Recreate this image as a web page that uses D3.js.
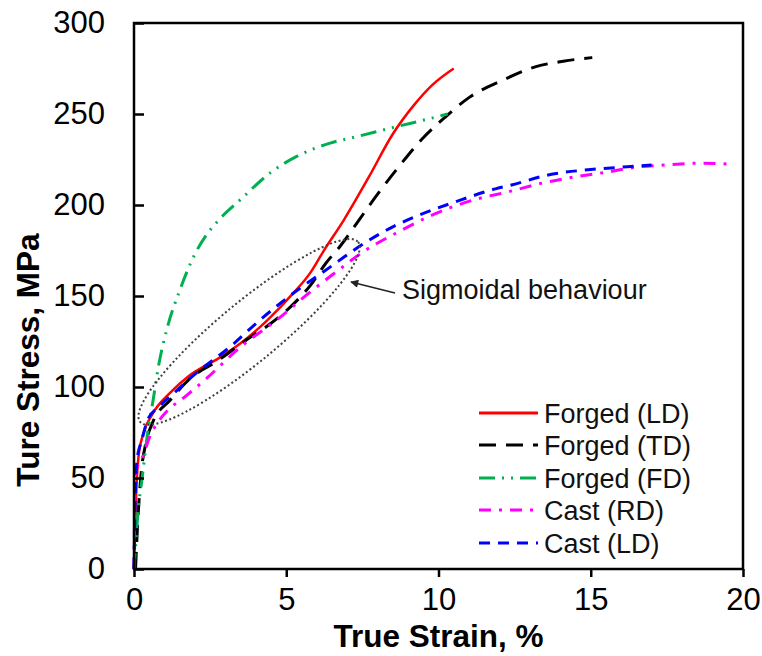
<!DOCTYPE html>
<html>
<head>
<meta charset="utf-8">
<script src="https://cdn.jsdelivr.net/npm/d3@7"></script>
<style>
  html, body { margin: 0; padding: 0; background: #fff; }
  svg { display: block; font-family: "Liberation Sans", Arial, sans-serif; }
</style>
</head>
<body>
<svg id="chart" width="762" height="656"></svg>
<script>
// True stress–strain curves: [strain %, stress MPa]
const forgedLD = [[0,0],[0.03,20],[0.08,45],[0.15,62],[0.3,74],[0.6,85],[1.2,97],[1.8,106],[2.8,116],[3.5,124],[4.4,137],[5.2,151],[5.8,163],[6.2,174],[6.9,192],[7.7,215],[8.5,239],[9.2,255],[9.8,266],[10.5,275]];
const forgedTD = [[0.05,0],[0.12,25],[0.22,50],[0.4,70],[0.6,80],[1.2,93],[1.8,104],[2.8,115],[3.7,126],[4.5,135],[5.2,145],[5.8,156],[6.3,168],[6.8,178],[7.4,192],[8.0,206],[8.6,219],[9.5,237],[10.2,248],[11.0,259],[12.1,268.5],[13.2,276],[14.1,279],[15.05,281]];
const forgedFD = [[0,0],[0.05,12],[0.13,31],[0.26,49],[0.45,75],[0.63,93],[0.8,111],[1.1,133],[1.5,153],[2.0,173],[2.4,184],[2.8,192],[3.5,203],[4.5,218],[5.5,228],[6.44,234],[7.3,237.5],[8.6,243],[9.6,247],[10.3,250]];
const castRD = [[0,0],[0.02,30],[0.05,53],[0.3,62],[0.5,72],[0.8,81],[1.1,87],[1.7,95],[2.4,105],[3.5,122],[4.7,137],[5.7,151],[6.7,164],[7.5,174],[8.6,184.5],[10,196],[11.2,203],[12.35,207.5],[13.4,212],[14.5,215.5],[15.5,218],[16.6,221],[17.5,222],[18.6,223],[19.5,222.5]];
const castLD = [[0,0],[0.03,30],[0.1,60],[0.26,71],[0.45,82],[0.8,89],[1.2,95],[2.07,108],[3.15,122],[4.15,137],[5.35,153],[6.45,166],[7.2,175],[8.5,188],[9.3,194],[10.6,202],[11.9,209],[12.4,211],[13.6,216.5],[15,219.5],[16.2,221],[17,222]];

const seriesNames = ["Forged (LD)", "Forged (TD)", "Forged (FD)", "Cast (RD)", "Cast (LD)"];
const seriesData = [forgedLD, forgedTD, forgedFD, castRD, castLD];
const seriesColors = ["#ff0000", "#000000", "#00b050", "#ff00ff", "#0000ff"];
const seriesDashes = [null, "17,10", "16,7,2,7,2,7", "12,8,3,8", "11,8"];

const xTicks = [0, 5, 10, 15, 20];
const yTicks = [0, 50, 100, 150, 200, 250, 300];

// Annotation: ellipse around the sigmoidal region (tips in data units) and its label
const ellipseTips = [[0.2, 80.8], [7.36, 179.7]];
const ellipseHalfWidth = 30;
const noteText = "Sigmoidal behaviour";

const svg = d3.select("#chart");
const m = { left: 134, right: 743, top: 23, bottom: 569 };

const x = d3.scaleLinear().domain([0, 20]).range([m.left, m.right]);
const y = d3.scaleLinear().domain([0, 300]).range([m.bottom, m.top]);

// Curves
const line = d3.line().x(d => x(d[0])).y(d => y(d[1])).curve(d3.curveMonotoneX);
seriesData.forEach((data, i) => {
  svg.append("path")
    .datum(data)
    .attr("d", line)
    .attr("fill", "none")
    .attr("stroke", seriesColors[i])
    .attr("stroke-width", i === 0 ? 2.5 : 3)
    .attr("stroke-dasharray", seriesDashes[i]);
});

// Frame
svg.append("rect")
  .attr("x", m.left).attr("y", m.top)
  .attr("width", m.right - m.left).attr("height", m.bottom - m.top)
  .attr("fill", "none").attr("stroke", "#000").attr("stroke-width", 2.5);

// X axis: ticks outward
const xAxis = svg.append("g")
  .attr("transform", `translate(0,${m.bottom})`)
  .call(d3.axisBottom(x).tickValues(xTicks).tickSize(8).tickPadding(11).tickFormat(d3.format("d")));
xAxis.select(".domain").remove();
xAxis.selectAll(".tick line").attr("stroke", "#000").attr("stroke-width", 2.5);
xAxis.selectAll(".tick text").attr("font-size", 31).attr("fill", "#000")
  .attr("font-family", "'Liberation Sans', Arial, sans-serif");

// Y axis: ticks inward
const yAxis = svg.append("g")
  .attr("transform", `translate(${m.left},0)`)
  .call(d3.axisLeft(y).tickValues(yTicks).tickSize(0).tickPadding(29).tickFormat(d3.format("d")));
yAxis.select(".domain").remove();
yAxis.selectAll(".tick").append("line")
  .attr("x1", 0).attr("x2", 10).attr("stroke", "#000").attr("stroke-width", 2.5);
yAxis.selectAll(".tick text").attr("font-size", 31).attr("fill", "#000")
  .attr("font-family", "'Liberation Sans', Arial, sans-serif");

// Axis titles
svg.append("text")
  .attr("x", (m.left + m.right) / 2).attr("y", 647)
  .attr("text-anchor", "middle").attr("font-size", 31.5).attr("font-weight", "bold")
  .text("True Strain, %");
svg.append("text")
  .attr("transform", "translate(39,360) rotate(-90)")
  .attr("text-anchor", "middle").attr("font-size", 31.5).attr("font-weight", "bold")
  .text("Ture Stress, MPa");

// Ellipse annotation
const p0 = [x(ellipseTips[0][0]), y(ellipseTips[0][1])];
const p1 = [x(ellipseTips[1][0]), y(ellipseTips[1][1])];
const cx = (p0[0] + p1[0]) / 2, cy = (p0[1] + p1[1]) / 2;
const rx = Math.hypot(p1[0] - p0[0], p1[1] - p0[1]) / 2;
const ang = Math.atan2(p1[1] - p0[1], p1[0] - p0[0]) * 180 / Math.PI;
svg.append("ellipse")
  .attr("cx", cx).attr("cy", cy).attr("rx", rx).attr("ry", ellipseHalfWidth)
  .attr("transform", `rotate(${ang},${cx},${cy})`)
  .attr("fill", "none").attr("stroke", "#404040").attr("stroke-width", 2)
  .attr("stroke-dasharray", "2,2.5");

// Arrow pointing at the ellipse
svg.append("defs").append("marker")
  .attr("id", "arrowhead").attr("viewBox", "0 0 10 10")
  .attr("refX", 9).attr("refY", 5)
  .attr("markerWidth", 10).attr("markerHeight", 8)
  .attr("markerUnits", "userSpaceOnUse")
  .attr("orient", "auto")
  .append("path").attr("d", "M0,0 L10,5 L0,10 Z").attr("fill", "#222");
svg.append("line")
  .attr("x1", 395).attr("y1", 293).attr("x2", 351).attr("y2", 282)
  .attr("stroke", "#222").attr("stroke-width", 1.5)
  .attr("marker-end", "url(#arrowhead)");
svg.append("text")
  .attr("x", 402).attr("y", 299)
  .attr("font-size", 27).attr("fill", "#111")
  .text(noteText);

// Legend
const legend = svg.append("g");
const rowY = [413, 445, 478, 510, 543];
seriesNames.forEach((name, i) => {
  legend.append("line")
    .attr("x1", 479).attr("x2", 538).attr("y1", rowY[i]).attr("y2", rowY[i])
    .attr("stroke", seriesColors[i]).attr("stroke-width", 3)
    .attr("stroke-dasharray", seriesDashes[i]);
  legend.append("text")
    .attr("x", 544).attr("y", rowY[i] + 9.5)
    .attr("font-size", 27).attr("fill", "#111")
    .text(name);
});
</script>
</body>
</html>
